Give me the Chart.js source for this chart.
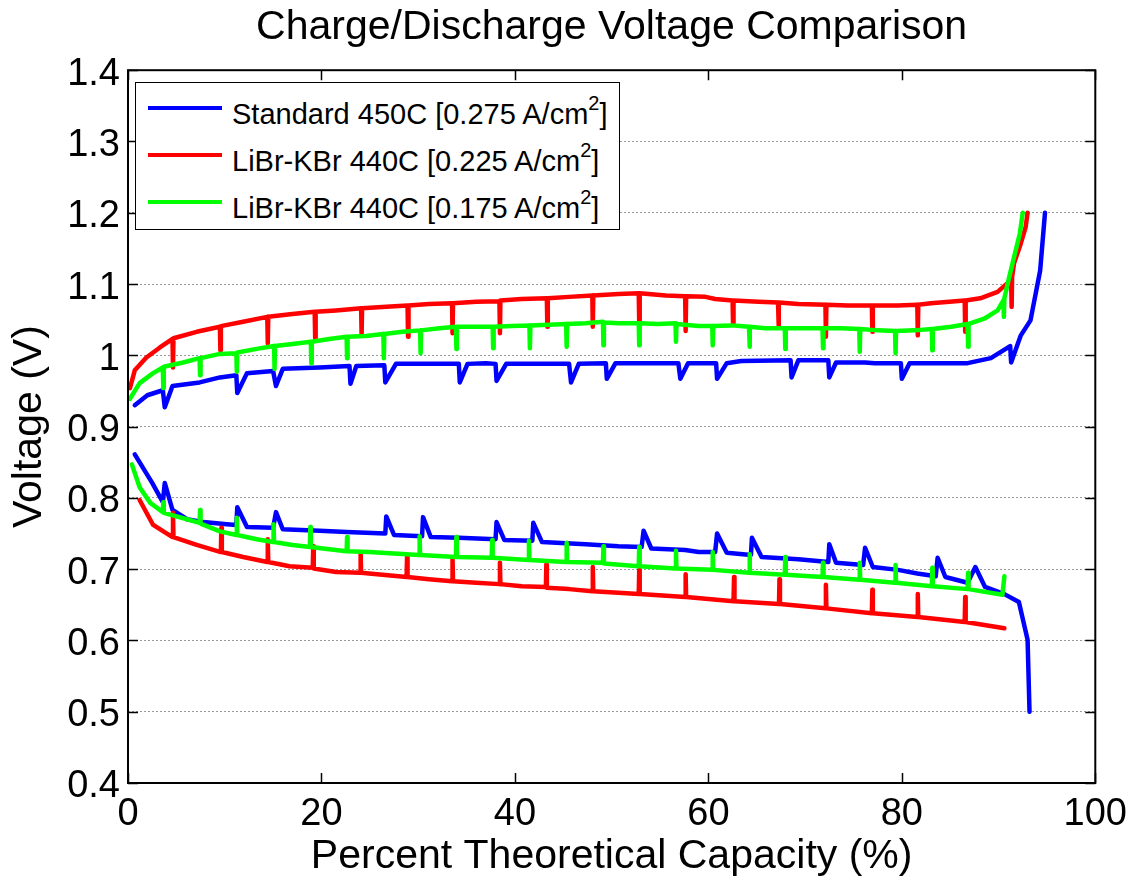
<!DOCTYPE html>
<html>
<head>
<meta charset="utf-8">
<title>Charge/Discharge Voltage Comparison</title>
<script src="https://cdn.jsdelivr.net/npm/chart.js@4.4.0/dist/chart.umd.min.js"></script>
<style>
  body { margin: 0; background: #fff; }
  #wrap { position: relative; width: 1136px; height: 882px; }
  #legend {
    position: absolute; left: 135px; top: 82px; width: 485px; height: 148px;
    box-sizing: border-box; border: 1px solid #000; background: #fff;
    font-family: "Liberation Sans", Arial, sans-serif; font-size: 29px; color: #000;
  }
  #legend .swatch { position: absolute; left: 12px; width: 74px; height: 4px; }
  #legend .label { position: absolute; left: 96px; line-height: 29px; white-space: nowrap; }
  #legend sup { font-size: 20px; vertical-align: 14px; line-height: 0; }
</style>
</head>
<body>
<div id="wrap">
  <canvas id="chart" width="1136" height="882"></canvas>
  <div id="legend"></div>
</div>
<script>
// Series names and colours
const seriesNames = ['Standard 450C', 'LiBr-KBr 440C', 'LiBr-KBr 440C'];
const currentDensity = ['0.275', '0.225', '0.175'];
const seriesColors = ['#0000ff', '#ff0000', '#00ff00'];

// [percent theoretical capacity, voltage]
const blueCharge = [
  [0.7,0.930],[2.0,0.944],[3.6,0.951],[3.8,0.927],[4.6,0.957],[7.4,0.962],[9.5,0.969],
  [11.2,0.972],[11.3,0.947],[12.3,0.975],[15.0,0.978],[15.3,0.957],[16.0,0.981],[19.8,0.983],
  [22.9,0.985],[23.0,0.960],[23.6,0.985],[26.5,0.986],[26.6,0.962],[27.7,0.988],[34.2,0.988],
  [34.3,0.962],[35.1,0.988],[37.0,0.989],[38.0,0.988],[38.1,0.964],[39.1,0.988],[45.6,0.988],
  [45.8,0.962],[46.6,0.988],[49.4,0.989],[49.5,0.967],[50.4,0.989],[56.9,0.989],[57.1,0.967],
  [57.9,0.989],[60.8,0.989],[60.9,0.967],[61.9,0.989],[63.4,0.992],[68.5,0.993],[68.6,0.969],
  [69.3,0.993],[72.4,0.993],[72.5,0.969],[73.2,0.990],[76.2,0.990],[77.2,0.989],[79.9,0.989],
  [80.0,0.967],[80.8,0.989],[86.8,0.989],[89.2,0.996],[91.2,1.013],[91.3,0.990],[92.3,1.028],
  [93.3,1.049],[94.3,1.119],[94.8,1.200]
];
const blueDischarge = [
  [0.7,0.861],[2.5,0.821],[3.6,0.794],[3.8,0.821],[4.6,0.783],[6.1,0.770],[7.8,0.766],
  [10.2,0.763],[11.2,0.762],[11.3,0.787],[12.3,0.759],[15.0,0.758],[15.3,0.780],[16.0,0.756],
  [19.8,0.754],[22.6,0.752],[26.6,0.750],[26.7,0.774],[27.5,0.748],[30.4,0.746],[30.5,0.773],
  [31.3,0.745],[34.2,0.744],[38.0,0.742],[38.1,0.766],[38.9,0.741],[41.8,0.740],[41.9,0.765],
  [42.8,0.738],[47.3,0.735],[50.7,0.732],[53.1,0.731],[53.3,0.754],[54.1,0.729],[57.6,0.727],
  [59.0,0.724],[60.7,0.724],[60.9,0.750],[61.9,0.723],[64.4,0.720],[64.5,0.744],[65.5,0.717],
  [69.3,0.714],[72.4,0.710],[72.5,0.735],[73.2,0.709],[76.0,0.706],[76.2,0.730],[77.0,0.703],
  [79.6,0.699],[81.6,0.694],[83.5,0.690],[83.7,0.716],[84.5,0.689],[86.8,0.681],[87.6,0.703],
  [88.6,0.675],[90.6,0.665],[92.1,0.654],[93.0,0.601],[93.2,0.500]
];
const redCharge = [
  [0.2,0.954],[0.7,0.979],[1.9,0.997],[3.3,1.011],[4.6,1.023],[4.65,0.983],[4.7,1.024],
  [7.1,1.033],[9.5,1.040],[9.55,1.007],[9.6,1.041],[11.9,1.047],[14.4,1.054],[14.45,1.017],
  [14.5,1.054],[17.0,1.058],[19.3,1.061],[19.35,1.024],[19.4,1.061],[21.5,1.063],[24.1,1.066],
  [24.15,1.029],[24.2,1.066],[26.7,1.068],[28.9,1.070],[28.95,1.026],[29.0,1.070],[31.1,1.072],
  [33.5,1.073],[33.55,1.031],[33.6,1.073],[36.0,1.075],[38.4,1.076],[38.45,1.031],[38.5,1.077],
  [40.7,1.079],[43.3,1.080],[43.35,1.040],[43.4,1.080],[45.6,1.082],[48.0,1.084],[48.05,1.040],
  [48.1,1.084],[50.7,1.086],[52.8,1.087],[52.85,1.046],[52.9,1.087],[55.6,1.084],[57.6,1.083],
  [57.65,1.034],[57.7,1.083],[59.7,1.082],[60.7,1.079],[62.5,1.077],[62.55,1.045],[62.6,1.077],
  [65.2,1.075],[67.2,1.074],[67.25,1.040],[67.3,1.074],[69.3,1.072],[72.1,1.071],[72.15,1.026],
  [72.2,1.071],[74.4,1.070],[76.9,1.070],[76.95,1.033],[77.0,1.070],[79.6,1.070],[81.6,1.071],
  [81.65,1.028],[81.7,1.071],[83.0,1.073],[86.5,1.077],[86.55,1.033],[86.6,1.077],[88.1,1.080],
  [89.9,1.089],[90.9,1.101],[91.3,1.106],[91.35,1.068],[91.4,1.110],[91.6,1.129],[92.3,1.157],
  [92.8,1.180],[93.0,1.200]
];
const redDischarge = [
  [1.2,0.797],[2.6,0.762],[4.6,0.745],[4.65,0.779],[4.7,0.745],[7.1,0.734],[9.6,0.724],
  [9.65,0.758],[9.7,0.724],[11.9,0.717],[14.4,0.710],[14.45,0.742],[14.5,0.710],[16.7,0.704],
  [19.1,0.702],[19.15,0.732],[19.2,0.701],[21.5,0.696],[24.0,0.695],[24.05,0.723],[24.1,0.695],
  [26.3,0.692],[28.8,0.689],[28.85,0.718],[28.9,0.689],[31.1,0.686],[33.5,0.683],[33.55,0.716],
  [33.6,0.683],[36.0,0.681],[38.4,0.679],[38.45,0.709],[38.5,0.679],[40.7,0.676],[43.2,0.675],
  [43.25,0.707],[43.3,0.674],[45.6,0.672],[48.0,0.669],[48.05,0.703],[48.1,0.669],[50.7,0.667],
  [52.8,0.665],[52.85,0.699],[52.9,0.665],[57.6,0.661],[57.65,0.693],[57.7,0.661],[62.6,0.655],
  [62.65,0.689],[62.7,0.655],[67.3,0.651],[67.35,0.686],[67.4,0.651],[72.1,0.645],[72.15,0.678],
  [72.2,0.645],[76.9,0.638],[76.95,0.671],[77.0,0.638],[81.6,0.633],[81.65,0.665],[81.7,0.633],
  [86.5,0.626],[86.55,0.661],[86.6,0.626],[90.6,0.617]
];
const greenCharge = [
  [0.2,0.939],[1.2,0.961],[2.6,0.975],[3.6,0.983],[3.65,0.954],[3.7,0.984],[5.7,0.990],
  [7.4,0.996],[7.45,0.972],[7.5,0.996],[9.5,1.002],[11.2,1.003],[11.25,0.977],[11.3,1.004],
  [13.3,1.009],[15.1,1.013],[15.15,0.981],[15.2,1.013],[17.0,1.016],[18.9,1.019],[18.95,0.989],
  [19.0,1.019],[20.8,1.023],[22.6,1.026],[22.65,0.996],[22.7,1.026],[24.6,1.027],[26.4,1.030],
  [26.45,0.996],[26.5,1.030],[28.4,1.033],[30.2,1.035],[30.25,1.003],[30.3,1.035],[32.2,1.038],
  [33.9,1.040],[33.95,1.009],[34.0,1.040],[36.0,1.040],[37.7,1.040],[37.75,1.010],[37.8,1.040],
  [39.7,1.041],[41.5,1.042],[41.55,1.010],[41.6,1.042],[43.5,1.043],[45.3,1.044],[45.35,1.012],
  [45.4,1.044],[47.3,1.045],[49.1,1.047],[49.15,1.014],[49.2,1.046],[50.7,1.045],[52.8,1.045],
  [52.85,1.014],[52.9,1.045],[54.8,1.044],[56.6,1.045],[56.65,1.019],[56.7,1.044],[59.0,1.041],
  [60.4,1.041],[60.45,1.014],[60.5,1.041],[62.4,1.042],[64.2,1.040],[64.25,1.012],[64.3,1.040],
  [65.9,1.038],[67.9,1.038],[67.95,1.009],[68.0,1.038],[70.0,1.038],[71.8,1.038],[71.85,1.010],
  [71.9,1.038],[73.7,1.038],[75.6,1.037],[75.65,1.005],[75.7,1.037],[77.5,1.035],[79.3,1.034],
  [79.35,1.003],[79.4,1.034],[81.3,1.035],[83.1,1.037],[83.15,1.007],[83.2,1.037],[85.1,1.040],
  [86.8,1.044],[86.85,1.012],[86.9,1.044],[88.6,1.052],[89.9,1.063],[90.5,1.077],[90.55,1.054],
  [90.6,1.080],[91.1,1.110],[91.6,1.138],[92.2,1.171],[92.5,1.200]
];
const greenDischarge = [
  [0.4,0.847],[1.2,0.815],[2.3,0.793],[3.6,0.780],[3.65,0.794],[3.7,0.779],[6.1,0.770],
  [7.4,0.765],[7.45,0.783],[7.5,0.764],[9.5,0.753],[11.2,0.748],[11.25,0.772],[11.3,0.748],
  [13.3,0.742],[15.0,0.738],[15.05,0.763],[15.1,0.738],[17.0,0.734],[18.8,0.731],[18.85,0.759],
  [18.9,0.731],[20.8,0.728],[22.6,0.725],[22.65,0.745],[22.7,0.725],[24.9,0.724],[30.1,0.720],
  [30.15,0.746],[30.2,0.720],[33.9,0.717],[33.95,0.745],[34.0,0.717],[37.6,0.716],[37.65,0.741],
  [37.7,0.716],[41.4,0.713],[41.45,0.740],[41.5,0.713],[45.3,0.710],[45.35,0.737],[45.4,0.710],
  [49.1,0.709],[49.15,0.732],[49.2,0.708],[52.8,0.704],[52.85,0.731],[52.9,0.704],[56.6,0.701],
  [56.65,0.726],[56.7,0.701],[60.4,0.699],[60.45,0.724],[60.5,0.699],[64.2,0.695],[64.25,0.721],
  [64.3,0.695],[67.9,0.692],[67.95,0.717],[68.0,0.692],[71.8,0.689],[71.85,0.709],[71.9,0.689],
  [75.6,0.685],[75.65,0.709],[75.7,0.685],[79.3,0.681],[79.35,0.706],[79.4,0.681],[83.1,0.676],
  [83.15,0.702],[83.2,0.676],[86.8,0.672],[86.85,0.695],[86.9,0.672],[90.4,0.664],[90.6,0.690]
];

const xTicks = [0, 20, 40, 60, 80, 100];
const yTicks = [0.4, 0.5, 0.6, 0.7, 0.8, 0.9, 1.0, 1.1, 1.2, 1.3, 1.4];

const FONT = '"Liberation Sans", Arial, sans-serif';
Chart.defaults.font.family = FONT;
Chart.defaults.color = '#000';

function toPoints(pairs) {
    return pairs.map(p => ({ x: p[0], y: p[1] }));
}

function makeDataset(label, pairs, color, order) {
    return {
        label: label,
        data: toPoints(pairs),
        borderColor: color,
        backgroundColor: color,
        borderWidth: 4.5,
        borderJoinStyle: 'round',
        borderCapStyle: 'round',
        pointRadius: 0,
        tension: 0,
        fill: false,
        order: order
    };
}

// Box round the plot and inward tick marks, like the original figure
const frameTicks = {
    id: 'frameTicks',
    afterDatasetsDraw(chart) {
        const { ctx, chartArea: a, scales: { x, y } } = chart;
        const len = 10;
        ctx.save();
        ctx.strokeStyle = '#000';
        ctx.lineWidth = 1.5;
        ctx.beginPath();
        x.ticks.forEach(t => {
            const px = Math.round(x.getPixelForValue(t.value)) + 0.5;
            ctx.moveTo(px, a.bottom); ctx.lineTo(px, a.bottom - len);
            ctx.moveTo(px, a.top); ctx.lineTo(px, a.top + len);
        });
        y.ticks.forEach(t => {
            const py = Math.round(y.getPixelForValue(t.value)) + 0.5;
            ctx.moveTo(a.left, py); ctx.lineTo(a.left + len, py);
            ctx.moveTo(a.right, py); ctx.lineTo(a.right - len, py);
        });
        ctx.stroke();
        ctx.lineWidth = 2;
        ctx.strokeRect(a.left, a.top, a.right - a.left, a.bottom - a.top);
        ctx.restore();
    }
};

const ctx = document.getElementById('chart').getContext('2d');
const chart = new Chart(ctx, {
    type: 'line',
    data: {
        datasets: [
            makeDataset(seriesNames[0] + ' charge', blueCharge, seriesColors[0], 3),
            makeDataset(seriesNames[0] + ' discharge', blueDischarge, seriesColors[0], 3),
            makeDataset(seriesNames[1] + ' charge', redCharge, seriesColors[1], 2),
            makeDataset(seriesNames[1] + ' discharge', redDischarge, seriesColors[1], 2),
            makeDataset(seriesNames[2] + ' charge', greenCharge, seriesColors[2], 1),
            makeDataset(seriesNames[2] + ' discharge', greenDischarge, seriesColors[2], 1)
        ]
    },
    options: {
        responsive: false,
        animation: false,
        devicePixelRatio: 1,
        layout: { padding: { left: 0, right: 38, top: 0, bottom: 0 } },
        plugins: {
            legend: { display: false },
            tooltip: { enabled: false },
            title: {
                display: true,
                fullSize: false,
                text: 'Charge/Discharge Voltage Comparison',
                color: '#000',
                font: { size: 41, weight: 'normal', lineHeight: 1.2 },
                padding: { top: 3, bottom: 18 }
            }
        },
        scales: {
            x: {
                type: 'linear',
                min: 0,
                max: 100,
                afterFit: s => { s.height = 99; },
                afterBuildTicks: s => { s.ticks = xTicks.map(v => ({ value: v })); },
                ticks: { color: '#000', font: { size: 38 }, padding: 9, maxRotation: 0 },
                grid: { display: false, drawTicks: false },
                border: { display: false },
                title: {
                    display: true,
                    text: 'Percent Theoretical Capacity (%)',
                    color: '#000',
                    font: { size: 41, lineHeight: 1.2 },
                    padding: { top: 0, bottom: 1 }
                }
            },
            y: {
                type: 'linear',
                min: 0.4,
                max: 1.4,
                afterFit: s => { s.width = 128; },
                afterBuildTicks: s => { s.ticks = yTicks.map(v => ({ value: v })); },
                ticks: {
                    color: '#000',
                    font: { size: 38 },
                    padding: 8,
                    labelOffset: 4,
                    callback: v => String(Number(v.toFixed(1)))
                },
                grid: { color: '#9a9a9a', lineWidth: 1, drawTicks: false },
                border: { display: false, dash: [2, 2] },
                title: {
                    display: true,
                    text: 'Voltage (V)',
                    color: '#000',
                    font: { size: 41, lineHeight: 1.2 },
                    padding: { top: 5, bottom: 0 }
                }
            }
        }
    },
    plugins: [frameTicks]
});

// Legend with superscript units, placed inside the plot like the original
const legend = document.getElementById('legend');
seriesNames.forEach((name, i) => {
    const sw = document.createElement('div');
    sw.className = 'swatch';
    sw.style.background = seriesColors[i];
    sw.style.top = (23 + i * 47) + 'px';
    legend.appendChild(sw);
    const lab = document.createElement('div');
    lab.className = 'label';
    lab.style.top = (17 + i * 47) + 'px';
    lab.innerHTML = name + ' [' + currentDensity[i] + ' A/cm<sup>2</sup>]';
    legend.appendChild(lab);
});
</script>
</body>
</html>
